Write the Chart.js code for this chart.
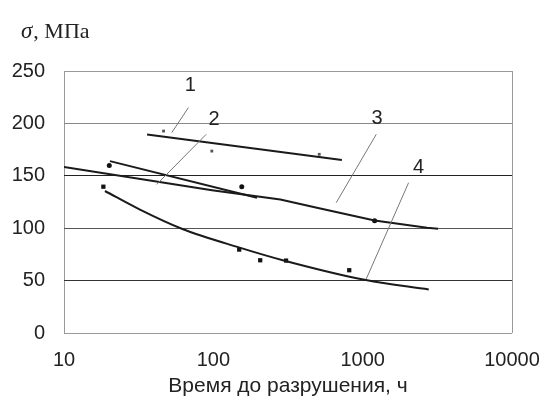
<!DOCTYPE html>
<html>
<head>
<meta charset="utf-8">
<script src="https://cdn.jsdelivr.net/npm/chart.js@4.4.1/dist/chart.umd.min.js"></script>
<style>
  body { margin: 0; background: #fff; }
  #wrap { width: 545px; height: 408px; }
</style>
</head>
<body>
<div id="wrap"><canvas id="creepChart" width="545" height="408"></canvas></div>
<script>
// axis ticks
const xTicks = [10, 100, 1000, 10000];
const yTicks = [0, 50, 100, 150, 200, 250];

// fitted curves 1..4 (time, stress)
const curve1 = [[36, 189.5], [726, 165]];
const curve2 = [[20.3, 164], [196, 129]];
const curve3 = [[10, 158.5], [98, 136.3], [281, 127.4], [494, 119.5], [1202, 107.4], [2700, 100.4], [3200, 99.5]];
const curve4 = [[18.8, 135.5], [32, 118], [61.5, 99.5], [150, 81.5], [300, 69], [1050, 50.5], [2770, 41.5]];

// experimental points
const points1 = [[46.4, 192.7], [97.7, 173.6], [512, 170.5]];
const points23 = [[20.1, 159.9], [155, 139.6], [1202, 107]];
const points4 = [[18.35, 139.6], [149, 79.6], [206, 69.4], [307, 69.1], [813, 59.9]];

// curve numbers and their leader lines
const curveNames = ['1', '2', '3', '4'];
const namePos = [[70, 235.8], [101, 203.9], [1247, 204.6], [2370, 157.7]];
const leaders = [
  [[68.1, 215.1], [52.7, 191.2]],
  [[89.6, 189.6], [41.8, 141.8]],
  [[1233, 189.6], [665, 124.3]],
  [[2030, 143.4], [1057, 51.6]]
];

const toXY = arr => arr.map(p => ({ x: p[0], y: p[1] }));

const gridColors = { 0: '#999', 50: '#333', 100: '#555', 150: '#222', 200: '#888', 250: '#999' };

let datasets = [];
leaders.forEach(l => {
  datasets.push({ type: 'line', data: toXY(l), borderColor: '#777', borderWidth: 1, pointRadius: 0, tension: 0 });
});
[curve1, curve2, curve3].forEach(c => {
  datasets.push({ type: 'line', data: toXY(c), borderColor: '#1a1a1a', borderWidth: 2, pointRadius: 0, tension: 0 });
});
datasets.push({ type: 'line', data: toXY(curve4), borderColor: '#1a1a1a', borderWidth: 2, pointRadius: 0, cubicInterpolationMode: 'monotone' });
datasets.push({ type: 'scatter', data: toXY(points1), pointStyle: 'rect', pointRadius: 2, backgroundColor: '#555', borderWidth: 0 });
datasets.push({ type: 'scatter', data: toXY(points23), pointStyle: 'circle', pointRadius: 2.5, backgroundColor: '#111', borderWidth: 0 });
datasets.push({ type: 'scatter', data: toXY(points4), pointStyle: 'rect', pointRadius: 3, backgroundColor: '#111', borderWidth: 0 });

const textPlugin = {
  id: 'texts',
  afterDatasetsDraw(chart) {
    const ctx = chart.ctx;
    const xs = chart.scales.x, ys = chart.scales.y;
    ctx.save();
    ctx.fillStyle = '#222';
    ctx.font = '20px "Liberation Sans", Arial, sans-serif';
    ctx.textAlign = 'center';
    ctx.textBaseline = 'middle';
    curveNames.forEach((n, i) => {
      ctx.fillText(n, xs.getPixelForValue(namePos[i][0]), ys.getPixelForValue(namePos[i][1]));
    });
    // axis unit above the plot
    ctx.textAlign = 'left';
    ctx.textBaseline = 'alphabetic';
    ctx.font = 'italic 23px "Liberation Serif", "Times New Roman", serif';
    ctx.fillText('\u03C3', 21, 38);
    const w = ctx.measureText('\u03C3').width;
    ctx.font = '22px "Liberation Serif", "Times New Roman", serif';
    ctx.fillText(', МПа', 21 + w + 1, 38);
    ctx.restore();
  }
};

new Chart(document.getElementById('creepChart'), {
  data: { datasets: datasets },
  options: {
    responsive: false,
    animation: false,
    layout: { padding: { top: 71, left: 0, right: 0, bottom: 0 } },
    plugins: { legend: { display: false }, tooltip: { enabled: false } },
    scales: {
      x: {
        type: 'logarithmic',
        min: 10,
        max: 10000,
        afterBuildTicks: s => { s.ticks = xTicks.map(v => ({ value: v })); },
        afterFit: s => { s.height = 75; s.paddingLeft = 0; s.paddingRight = 33; },
        grid: {
          drawTicks: false,
          color: c => (c.tick && (c.tick.value === 10 || c.tick.value === 10000)) ? '#999' : 'rgba(0,0,0,0)'
        },
        border: { display: false },
        ticks: {
          padding: 15,
          maxRotation: 0,
          color: '#222',
          font: { family: '"Liberation Sans", Arial, sans-serif', size: 20 },
          callback: v => String(v)
        },
        title: {
          display: true,
          text: 'Время до разрушения, ч',
          color: '#222',
          padding: { top: 0, bottom: 9 },
          font: { family: '"Liberation Sans", Arial, sans-serif', size: 21 }
        }
      },
      y: {
        min: 0,
        max: 250,
        afterBuildTicks: s => { s.ticks = yTicks.map(v => ({ value: v })); },
        afterFit: s => { s.width = 64; },
        grid: {
          drawTicks: false,
          color: c => gridColors[c.tick ? c.tick.value : 0] || '#999'
        },
        border: { display: false },
        ticks: {
          padding: 19,
          color: '#222',
          font: { family: '"Liberation Sans", Arial, sans-serif', size: 20 }
        }
      }
    }
  },
  plugins: [textPlugin]
});
</script>
</body>
</html>
